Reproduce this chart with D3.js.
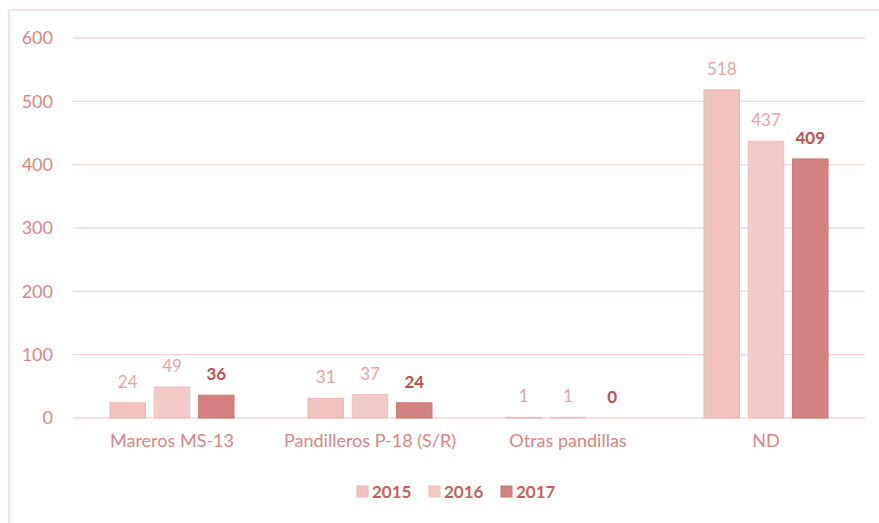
<!DOCTYPE html>
<html><head><meta charset="utf-8">
<script src="https://cdn.jsdelivr.net/npm/d3@7"></script>
<style>body{margin:0;background:#fff}svg{display:block;font-family:Lato,"Open Sans",sans-serif}</style>
</head><body><svg id="c" width="879" height="523"></svg>
<script>
const categories = ["Mareros MS-13", "Pandilleros P-18 (S/R)", "Otras pandillas", "ND"];
const years = ["2015", "2016", "2017"];
const values2015 = [24, 31, 1, 518];
const values2016 = [49, 37, 1, 437];
const values2017 = [36, 24, 0, 409];
const yTicks = [0, 100, 200, 300, 400, 500, 600];

const series = [values2015, values2016, values2017];
const fills = ["#f0c2c0", "#f2cbc9", "#d4827f"];
const strokes = ["#ecb6b3", "#efbfbc", "#cc7672"];
const labelColors = ["#e8a5a2", "#e8a5a2", "#c4504c"];
const labelWeights = ["normal", "normal", "bold"];

const svg = d3.select("#c");
const m = {l: 73, r: 14, t: 38, b: 105};
const W = 879, H = 523;
const x0 = d3.scaleBand().domain(categories).range([m.l, W - m.r]);
const x1 = d3.scaleBand().domain(years).range([0, 124]).paddingInner(0.2).paddingOuter(0);
const y = d3.scaleLinear().domain([0, 600]).range([H - m.b, m.t]);

// border
svg.append("path").attr("d", "M9,523 V10 H879").attr("fill", "none").attr("stroke", "#fbe1e0").attr("stroke-width", 2);

// grid
svg.append("g").selectAll("line").data(yTicks).join("line")
  .attr("x1", m.l).attr("x2", W - m.r)
  .attr("y1", d => y(d)).attr("y2", d => y(d))
  .attr("stroke", "#f8d6d5").attr("stroke-width", 1.3);

// y axis labels
const yAxis = d3.axisLeft(y).tickValues(yTicks).tickSize(0).tickPadding(20);
const ga = svg.append("g").attr("transform", `translate(${m.l},0)`).call(yAxis);
ga.select(".domain").remove();
ga.selectAll("text").attr("fill", "#d98683").attr("font-size", 18).attr("font-family", "Lato, 'Open Sans', sans-serif");

// bars
const groups = svg.append("g").selectAll("g").data(categories).join("g")
  .attr("transform", d => `translate(${x0(d) + x0.bandwidth() / 2 - 62},0)`);
years.forEach((yr, si) => {
  groups.append("rect")
    .attr("x", x1(yr)).attr("width", x1.bandwidth())
    .attr("y", (d, i) => y(series[si][i]))
    .attr("height", (d, i) => y(0) - y(series[si][i]))
    .attr("fill", fills[si]).attr("stroke", strokes[si]).attr("stroke-width", 1);
  groups.append("text")
    .attr("x", x1(yr) + x1.bandwidth() / 2)
    .attr("y", (d, i) => y(series[si][i]) - 15)
    .attr("text-anchor", "middle")
    .attr("font-size", 17).attr("font-weight", labelWeights[si])
    .attr("fill", labelColors[si])
    .text((d, i) => series[si][i]);
});

// x axis labels
const xAxis = d3.axisBottom(x0).tickSize(0).tickPadding(16);
const gx = svg.append("g").attr("transform", `translate(0,${y(0)})`).call(xAxis);
gx.select(".domain").remove();
gx.selectAll("text").attr("fill", "#d98683").attr("font-size", 18).attr("font-family", "Lato, 'Open Sans', sans-serif");

// legend
const lg = svg.append("g").attr("transform", "translate(357,492)");
const offs = [0, 72, 144];
years.forEach((yr, i) => {
  lg.append("rect").attr("x", offs[i]).attr("y", -6).attr("width", 11).attr("height", 11)
    .attr("fill", fills[i]).attr("stroke", strokes[i]);
  lg.append("text").attr("x", offs[i] + 15).attr("y", 6)
    .attr("font-size", 17).attr("font-weight", "bold").attr("fill", "#c8605c").text(yr);
});
</script></body></html>
